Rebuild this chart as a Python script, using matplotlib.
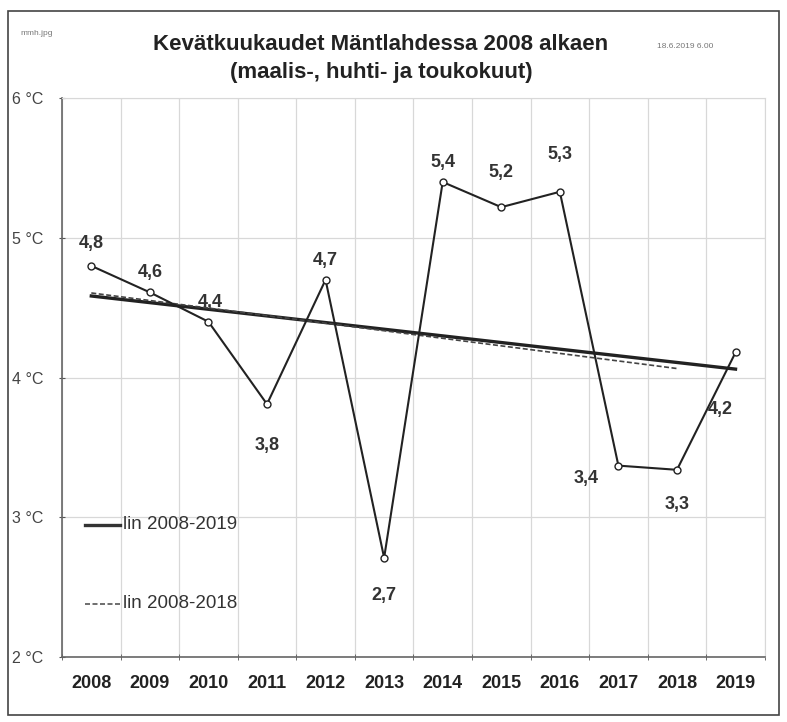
import numpy as np
import matplotlib
matplotlib.use("Agg")
import matplotlib.pyplot as plt
from matplotlib.patches import Rectangle
from matplotlib.lines import Line2D

plt.rcParams['font.family'] = ['Liberation Sans', 'DejaVu Sans']

# data
years = ['2008', '2009', '2010', '2011', '2012', '2013',
         '2014', '2015', '2016', '2017', '2018', '2019']
temps = [4.80, 4.61, 4.40, 3.81, 4.70, 2.71, 5.40, 5.22, 5.33, 3.37, 3.34, 4.18]
labels = ['4,8', '4,6', '4,4', '3,8', '4,7', '2,7', '5,4', '5,2', '5,3', '3,4', '3,3', '4,2']
# label offsets (points) relative to each marker
offsets = [(0, 16), (0, 14), (1, 14), (0, -30), (0, 14), (0, -27),
           (0, 14), (0, 25), (0, 27), (-23, -9), (0, -25), (-11, -41)]
yticks = [2, 3, 4, 5, 6]
ytick_labels = ['2 °C', '3 °C', '4 °C', '5 °C', '6 °C']

x = np.arange(len(years))
y = np.array(temps)

fig = plt.figure(figsize=(7.87, 7.22), dpi=100)
ax = fig.add_axes([0.0788, 0.09, 0.893, 0.774])

# grid lines at category boundaries
ax.set_xlim(-0.5, 11.5)
ax.set_ylim(2, 6)
ax.set_xticks(x)
ax.set_xticklabels(years, fontsize=13, fontweight='bold', color='#222222')
ax.set_xticks(np.arange(-0.5, 12, 1), minor=True)
ax.tick_params(axis='x', which='major', length=0, pad=13)
ax.tick_params(axis='x', which='minor', length=5, direction='inout', color='#555555')
ax.set_yticks(yticks)
ax.set_yticklabels(ytick_labels, fontsize=11.5, color='#444444')
ax.tick_params(axis='y', length=5, direction='inout', color='#555555', pad=11)
ax.grid(True, which='minor', axis='x', color='#d8d8d8', lw=0.9)
ax.grid(True, which='major', axis='y', color='#d8d8d8', lw=0.9)
for s in ['top', 'right']:
    ax.spines[s].set_color('#d8d8d8')
for s in ['left', 'bottom']:
    ax.spines[s].set_color('#666666')
    ax.spines[s].set_linewidth(1.2)

# trend lines
k1, b1 = np.polyfit(x, y, 1)
xa = np.array([0, 11])
ax.plot(xa, k1 * xa + b1, color='#222222', lw=2.4, zorder=3)
k2, b2 = np.polyfit(x[:11], y[:11], 1)
xb = np.array([0, 10])
ax.plot(xb, k2 * xb + b2, color='#444444', lw=1.2, ls=(0, (3, 1.5)), zorder=3)

# data line
ax.plot(x, y, color='#222222', lw=1.5, marker='o', ms=5,
        mfc='white', mec='#222222', mew=1.0, zorder=4)
for xi, yi, lab, off in zip(x, y, labels, offsets):
    ax.annotate(lab, (xi, yi), xytext=off, textcoords='offset points',
                ha='center', va='center', fontsize=13, fontweight='bold',
                color='#333333')

# legend
fig.lines.append(Line2D([0.108, 0.152], [0.273, 0.273], transform=fig.transFigure,
                        color='#333333', lw=2.4))
fig.text(0.156, 0.273, 'lin 2008-2019', fontsize=13.5, color='#333333', va='center')
fig.lines.append(Line2D([0.108, 0.152], [0.164, 0.164], transform=fig.transFigure,
                        color='#555555', lw=1.2, ls=(0, (3, 1.5))))
fig.text(0.156, 0.164, 'lin 2008-2018', fontsize=13.5, color='#333333', va='center')

# titles
fig.text(0.483, 0.939, 'Kevätkuukaudet Mäntlahdessa 2008 alkaen', ha='center',
         va='center', fontsize=16, fontweight='bold', color='#222222')
fig.text(0.484, 0.900, '(maalis-, huhti- ja toukokuut)', ha='center',
         va='center', fontsize=16, fontweight='bold', color='#222222')
fig.text(0.026, 0.952, 'mmh.jpg', fontsize=6, color='#777777')
fig.text(0.835, 0.934, '18.6.2019 6.00', fontsize=6, color='#777777')

# frame
fig.patches.append(Rectangle((0.01, 0.01), 0.98, 0.975, transform=fig.transFigure,
                             fill=False, ec='#444444', lw=1.2))

fig.savefig('out.png', dpi=100)
